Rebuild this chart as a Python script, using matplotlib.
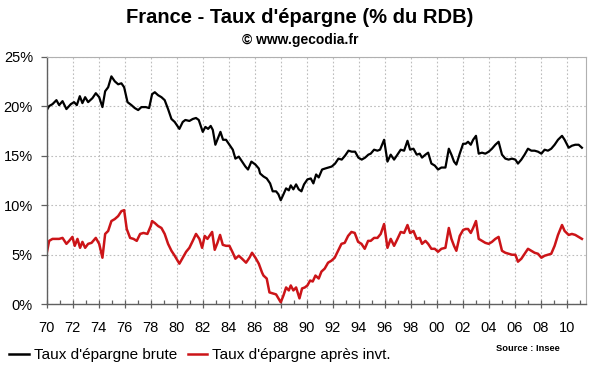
import matplotlib
matplotlib.use("Agg")
import matplotlib.pyplot as plt
from matplotlib.ticker import MultipleLocator, FuncFormatter
from matplotlib.lines import Line2D

plt.rcParams['font.family'] = ['Liberation Sans', 'DejaVu Sans']

# Taux d'épargne brute (% du RDB), readings (date, value)
brute_dates = [1970.00, 1970.18, 1970.44, 1970.74, 1970.95, 1971.21, 1971.51, 1971.85, 1972.10, 1972.31,
               1972.54, 1972.74, 1972.95, 1973.18, 1973.51, 1973.77, 1974.03, 1974.28, 1974.49, 1974.72,
               1974.97, 1975.23, 1975.49, 1975.74, 1975.95, 1976.21, 1976.51, 1976.77, 1977.03, 1977.28,
               1977.62, 1977.87,
               1978.10, 1978.31, 1978.56, 1978.82, 1979.07, 1979.33, 1979.59, 1979.84, 1980.20, 1980.46,
               1980.66, 1980.97, 1981.23, 1981.48, 1981.69, 1982.00, 1982.20, 1982.41, 1982.61, 1982.77,
               1982.97, 1983.15, 1983.36, 1983.56, 1983.79, 1984.05, 1984.31, 1984.51, 1984.77, 1985.02,
               1985.28, 1985.48, 1985.74, 1986.05, 1986.31,
               1986.41, 1986.67, 1986.92, 1987.18, 1987.38, 1987.64, 1987.82, 1988.00, 1988.21, 1988.41,
               1988.62, 1988.77, 1988.97, 1989.18, 1989.38, 1989.59, 1989.79, 1990.05, 1990.31, 1990.51,
               1990.72, 1990.92, 1991.18, 1991.41, 1991.67, 1991.92, 1992.18, 1992.44, 1992.69, 1992.95,
               1993.21, 1993.46, 1993.72, 1993.97, 1994.23, 1994.49, 1994.74,
               1994.92, 1995.18, 1995.44, 1995.64, 1995.95, 1996.21, 1996.46, 1996.72, 1996.98, 1997.23,
               1997.49, 1997.75, 1997.95, 1998.21, 1998.46, 1998.69, 1998.87, 1999.13, 1999.34, 1999.59,
               1999.85, 2000.10, 2000.36, 2000.67, 2000.93, 2001.13, 2001.33, 2001.51, 2001.77, 2002.03,
               2002.23, 2002.41, 2002.62, 2002.80,
               2003.02, 2003.23, 2003.48, 2003.74, 2004.00, 2004.25, 2004.51, 2004.76, 2005.02, 2005.28,
               2005.53, 2005.79, 2006.05, 2006.25, 2006.51, 2006.76, 2007.02, 2007.28, 2007.53, 2007.79,
               2008.05, 2008.30, 2008.56, 2008.81, 2009.07, 2009.33, 2009.64, 2009.84, 2010.15, 2010.40,
               2010.66, 2010.92, 2011.17]
brute_values = [19.6, 20.0, 20.2, 20.6, 20.1, 20.5, 19.7, 20.2, 20.4, 20.1,
                21.0, 20.3, 20.9, 20.4, 20.8, 21.3, 20.9, 19.9, 21.5, 21.9,
                23.0, 22.5, 22.2, 22.3, 21.9, 20.4, 20.1, 19.8, 19.6, 19.9,
                19.9, 19.8,
                21.2, 21.4, 21.1, 20.9, 20.6, 19.7, 18.7, 18.4, 17.7, 18.4,
                18.6, 18.5, 18.7, 18.8, 18.6, 17.4, 17.9, 17.7, 18.0, 17.6,
                16.1, 16.7, 17.4, 16.6, 16.6, 16.1, 15.6, 14.7, 14.9, 14.4,
                13.9, 13.6, 14.4, 14.1, 13.7,
                13.2, 12.9, 12.7, 12.2, 11.4, 11.4, 11.1, 10.5, 11.1, 11.7,
                11.5, 12.0, 11.6, 12.1, 11.6, 11.4, 12.1, 12.6, 12.7, 12.2,
                13.1, 12.8, 13.6, 13.7, 13.8, 13.9, 14.2, 14.7, 14.6, 15.0,
                15.5, 15.4, 15.4, 14.8, 14.6, 14.8, 15.1,
                15.2, 15.6, 15.5, 15.6, 16.6, 14.4, 15.1, 14.6, 15.1, 15.6,
                15.5, 16.5, 15.6, 15.7, 15.1, 15.2, 14.8, 15.1, 15.3, 14.2,
                14.0, 13.6, 13.8, 13.8, 15.7, 15.1, 14.4, 14.1, 15.2, 16.2,
                16.2, 16.4, 16.1, 16.6,
                17.0, 15.2, 15.3, 15.2, 15.4, 15.7, 16.1, 16.4, 15.1, 14.7,
                14.6, 14.7, 14.6, 14.2, 14.6, 15.1, 15.7, 15.5, 15.5, 15.4,
                15.2, 15.6, 15.5, 15.7, 16.1, 16.6, 17.0, 16.6, 15.8, 16.0,
                16.1, 16.1, 15.8]

# Taux d'épargne après investissement, readings (date, value)
invt_dates = [1970.00, 1970.18, 1970.44, 1970.74, 1970.95, 1971.21, 1971.51, 1971.72, 1971.97, 1972.15,
              1972.36, 1972.56, 1972.74, 1972.95, 1973.18, 1973.44, 1973.77, 1974.03, 1974.28, 1974.49,
              1974.72, 1974.97, 1975.23, 1975.49, 1975.74, 1975.95, 1976.15, 1976.41, 1976.67, 1976.92,
              1977.18, 1977.44, 1977.74, 1978.00,
              1978.10, 1978.31, 1978.56, 1978.82, 1979.07, 1979.33, 1979.59, 1979.84, 1980.20, 1980.46,
              1980.72, 1980.97, 1981.23, 1981.48, 1981.74, 1981.95, 1982.15, 1982.36, 1982.51, 1982.72,
              1982.92, 1983.13, 1983.33, 1983.54, 1983.79, 1984.05, 1984.31, 1984.51, 1984.77, 1985.02,
              1985.33, 1985.59, 1985.79, 1986.05, 1986.31, 1986.56,
              1986.67, 1986.92, 1987.13, 1987.38, 1987.64, 1987.82, 1988.00, 1988.21, 1988.41, 1988.62,
              1988.77, 1988.97, 1989.18, 1989.44, 1989.64, 1989.85, 1990.05, 1990.26, 1990.46, 1990.67,
              1990.92, 1991.13, 1991.38, 1991.64, 1991.90, 1992.15, 1992.41, 1992.67, 1992.92, 1993.18,
              1993.44, 1993.69, 1993.95, 1994.21, 1994.46, 1994.72,
              1994.92, 1995.18, 1995.44, 1995.69, 1995.95, 1996.21, 1996.46, 1996.72, 1996.98, 1997.23,
              1997.49, 1997.75, 1997.95, 1998.21, 1998.46, 1998.69, 1998.87, 1999.13, 1999.34, 1999.59,
              1999.85, 2000.10, 2000.36, 2000.67, 2000.93, 2001.13, 2001.33, 2001.51, 2001.77, 2002.03,
              2002.23, 2002.41, 2002.62, 2002.80,
              2003.02, 2003.23, 2003.48, 2003.74, 2004.00, 2004.25, 2004.51, 2004.76, 2005.02, 2005.28,
              2005.53, 2005.79, 2006.05, 2006.25, 2006.51, 2006.76, 2007.02, 2007.28, 2007.53, 2007.79,
              2008.05, 2008.30, 2008.56, 2008.81, 2009.07, 2009.33, 2009.64, 2009.84, 2010.15, 2010.40,
              2010.66, 2010.92, 2011.17]
invt_values = [5.2, 6.4, 6.6, 6.6, 6.6, 6.7, 6.1, 6.4, 6.8, 5.9,
               6.6, 5.7, 6.3, 5.7, 6.1, 6.2, 6.7, 6.1, 4.7, 7.1,
               7.4, 8.4, 8.6, 8.9, 9.4, 9.5, 7.6, 6.7, 6.6, 6.4,
               7.1, 7.2, 7.1, 7.9,
               8.4, 8.2, 7.9, 7.7, 7.1, 6.1, 5.4, 4.9, 4.1, 4.7,
               5.3, 5.7, 6.4, 7.1, 6.6, 5.7, 6.9, 6.6, 6.9, 7.3,
               5.5, 6.2, 7.0, 6.0, 5.9, 5.9, 5.2, 4.6, 4.9, 4.6,
               4.2, 4.7, 5.2, 4.7, 4.1, 3.2,
               2.9, 2.6, 1.2, 1.1, 1.0, 0.6, 0.2, 0.9, 1.7, 1.4,
               1.9, 1.4, 1.7, 0.6, 1.6, 1.7, 1.9, 2.4, 2.3, 2.9,
               2.6, 3.3, 3.6, 4.2, 4.4, 4.7, 5.4, 6.1, 6.2, 6.9,
               7.3, 7.2, 6.3, 6.1, 5.6, 6.4,
               6.4, 6.7, 6.7, 7.1, 8.1, 5.7, 6.6, 5.9, 6.6, 7.3,
               7.2, 8.0, 7.2, 7.4, 6.6, 6.7, 6.1, 6.4, 6.1, 5.6,
               5.6, 5.3, 5.6, 5.7, 7.7, 6.6, 5.9, 5.4, 6.9, 7.5,
               7.6, 7.6, 7.2, 7.7,
               8.4, 6.6, 6.4, 6.2, 6.1, 6.3, 6.6, 6.8, 5.4, 5.2,
               5.1, 5.0, 5.0, 4.3, 4.6, 5.1, 5.6, 5.4, 5.2, 5.1,
               4.7, 4.9, 5.0, 5.1, 5.9, 7.0, 8.0, 7.4, 7.0, 7.1,
               7.0, 6.8, 6.6]

x_ticks = list(range(1970, 2011, 2))
x_ticklabels = ["%02d" % (y % 100) for y in x_ticks]
series_labels = ["Taux d'épargne brute", "Taux d'épargne après invt."]
title = "France - Taux d'épargne (% du RDB)"
subtitle = "© www.gecodia.fr"
source = "Source : Insee"

BLACK = "#000000"
RED = "#CC1418"

fig = plt.figure(figsize=(6.0, 3.72), dpi=100)
ax = fig.add_axes([0.078, 0.182, 0.899, 0.666])

ax.plot(brute_dates, brute_values, color=BLACK, lw=1.6, solid_joinstyle='round')
ax.plot(invt_dates, invt_values, color=RED, lw=1.8, solid_joinstyle='round')

ax.set_xlim(1970, 2011.5)
ax.set_ylim(0, 25)
ax.yaxis.set_major_locator(MultipleLocator(5))
ax.yaxis.set_major_formatter(FuncFormatter(lambda v, p: "%d%%" % v))
ax.set_xticks(x_ticks)
ax.set_xticklabels(x_ticklabels)
ax.xaxis.set_minor_locator(MultipleLocator(1))

ax.grid(True, which='major', color='#bdbdbd', linestyle=(0, (1.5, 2)), linewidth=0.8)
ax.set_axisbelow(True)

for s in ['top', 'right']:
    ax.spines[s].set_color('#b0b0b0')
    ax.spines[s].set_linewidth(0.8)
for s in ['left', 'bottom']:
    ax.spines[s].set_color('#606060')
    ax.spines[s].set_linewidth(1.0)

ax.tick_params(axis='x', which='major', direction='inout', length=6, width=0.9, color='#606060',
               labelsize=10.5, pad=9)
ax.tick_params(axis='x', which='minor', direction='in', length=3, width=0.9, color='#606060')
ax.tick_params(axis='y', which='major', direction='out', length=4, width=0.9, color='#606060',
               labelsize=10.5, pad=6)

fig.text(0.5, 0.952, title, ha='center', va='center', fontsize=14.5, fontweight='bold')
fig.text(0.5, 0.892, subtitle, ha='center', va='center', fontsize=10, fontweight='bold')

# legend
handles = [Line2D([], [], color=BLACK, lw=1.8), Line2D([], [], color=RED, lw=1.8)]
fig.legend(handles, series_labels, loc='center left', bbox_to_anchor=(0.0, 0.046), ncol=2,
           frameon=False, fontsize=11, handlelength=1.3, handletextpad=0.3, columnspacing=0.7,
           borderaxespad=0.2)
fig.text(0.933, 0.064, source, ha='right', va='center', fontsize=6.7, fontweight='bold')

fig.savefig("out.png", dpi=100, facecolor='white')
